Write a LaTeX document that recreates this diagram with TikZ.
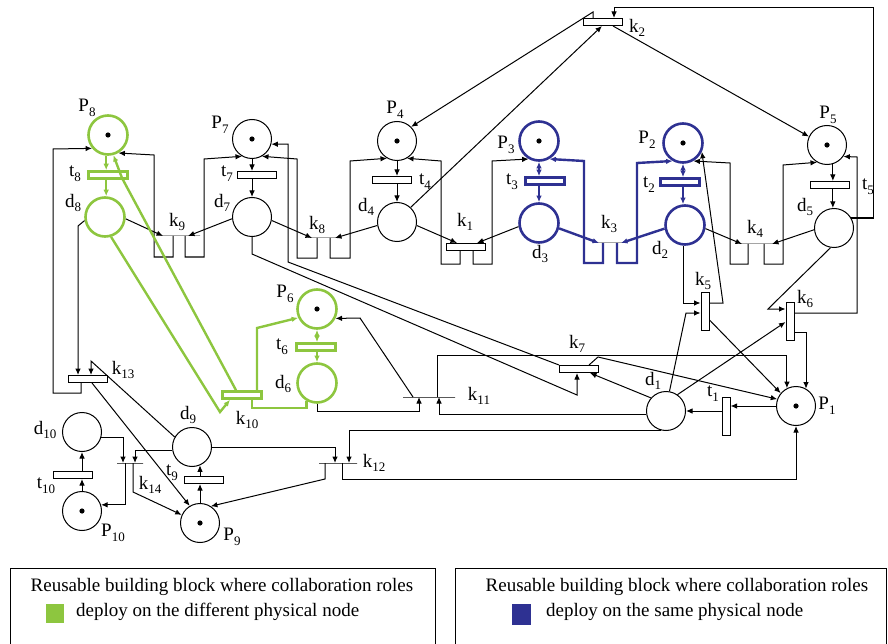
\documentclass[tikz,border=0pt]{standalone}
\usepackage{fontspec}
\setmainfont{Liberation Serif}
\usetikzlibrary{arrows.meta}

\definecolor{diffgreen}{RGB}{141,198,63}
\definecolor{sameblue}{RGB}{46,49,146}

% name with a lowered index (P_8, k_13 ...)
\newcommand{\lab}[2]{#1\raisebox{-0.55ex}{\fontsize{13}{13}\selectfont #2}}

\begin{document}
\begin{tikzpicture}[x=1pt, y=-1pt,
  place/.style={circle, draw, line width=1pt, minimum size=39pt, inner sep=0pt},
  marked/.style={path picture={\fill (path picture bounding box.center) circle (2.6pt);}},
  trans/.style={rectangle, draw, line width=1pt, minimum width=39pt, minimum height=7pt, inner sep=0pt},
  vtrans/.style={trans, minimum width=8pt, minimum height=38pt},
  bar/.style={rectangle, draw, line width=1pt, minimum height=0pt, inner sep=0pt},
  diff/.style={draw=diffgreen, line width=2.6pt},
  same/.style={draw=sameblue, line width=2.6pt},
  arc/.style={line width=1pt, -{Latex[length=6.5pt, width=5.5pt]}},
  both/.style={{Latex[length=6.5pt, width=5.5pt]}-{Latex[length=6.5pt, width=5.5pt]}},
  garc/.style={arc, draw=diffgreen, line width=2.4pt},
  barc/.style={arc, draw=sameblue, line width=2.4pt},
  lbl/.style={font=\fontsize{19}{19}\selectfont, inner sep=0pt},
  legend/.style={font=\fontsize{19}{19}\selectfont, inner sep=0pt}
]
\useasboundingbox (0,0) rectangle (888,644);

% ── PLACES ───────────────────────────────────────────────────────────────
\node[place, marked, diff] (P8) at (108,135) {};
\node[place, marked]       (P7) at (252,139) {};
\node[place, marked]       (P4) at (397,141) {};
\node[place, marked, same] (P3) at (539,141) {};
\node[place, marked, same] (P2) at (683,143) {};
\node[place, marked]       (P5) at (827,145) {};
\node[place, marked, diff] (P6) at (317,309) {};
\node[place, marked]       (P1) at (796,406) {};
\node[place, marked]       (P9) at (200,523) {};
\node[place, marked]      (P10) at (82,511) {};

\node[place, diff] (d8) at (105,217) {};
\node[place]       (d7) at (252,217) {};
\node[place]       (d4) at (397,222) {};
\node[place, same] (d3) at (539,223) {};
\node[place, same] (d2) at (685,225) {};
\node[place]       (d5) at (834,228) {};
\node[place, diff] (d6) at (317,383) {};
\node[place]       (d1) at (666,411) {};
\node[place]       (d9) at (192,447) {};
\node[place]      (d10) at (82,432) {};

% ── TRANSITIONS ──────────────────────────────────────────────────────────
\node[trans, diff] (t8) at (108,175) {};
\node[trans]       (t7) at (257,175) {};
\node[trans]       (t4) at (392,180) {};
\node[trans, same] (t3) at (545,181) {};
\node[trans, same] (t2) at (680,182) {};
\node[trans]       (t5) at (830,185) {};
\node[trans, diff] (t6) at (316,347) {};
\node[trans]      (t10) at (73,475) {};
\node[trans]       (t9) at (204,480) {};
\node[trans]       (k1) at (466,247) {};
\node[trans]       (k2) at (603,22) {};
\node[trans]       (k7) at (579,369) {};
\node[trans]      (k13) at (88,379) {};
\node[trans, diff] (k10) at (242,395) {};
\node[vtrans]      (k5) at (705,311) {};
\node[vtrans]      (k6) at (790,321) {};
\node[vtrans]      (t1) at (726,416) {};
\node[bar, minimum width=40pt]  (k9) at (180,236) {};
\node[bar, minimum width=32pt]  (k8) at (324,238) {};
\node[bar, minimum width=34pt]  (k3) at (610,243) {};
\node[bar, minimum width=38pt]  (k4) at (759,244) {};
\node[bar, minimum width=52pt] (k11) at (429,397) {};
\node[bar, minimum width=38pt] (k12) at (338,463) {};
\node[bar, minimum width=26pt] (k14) at (130,463) {};

% ── LABELS ───────────────────────────────────────────────────────────────
\node[lbl] (lP8) at (87,108) {\lab{P}{8}};
\node[lbl] (lt8) at (75,174) {\lab{t}{8}};
\node[lbl] (ld8) at (73,203) {\lab{d}{8}};
\node[lbl] (lP7) at (220,125) {\lab{P}{7}};
\node[lbl] (lt7) at (227,174) {\lab{t}{7}};
\node[lbl] (ld7) at (222,203) {\lab{d}{7}};
\node[lbl] (lk9) at (177,222) {\lab{k}{9}};
\node[lbl] (lP4) at (395,110) {\lab{P}{4}};
\node[lbl] (lt4) at (425,182) {\lab{t}{4}};
\node[lbl] (ld4) at (366,207) {\lab{d}{4}};
\node[lbl] (lk8) at (317,225) {\lab{k}{8}};
\node[lbl] (lk1) at (465,222) {\lab{k}{1}};
\node[lbl] (lP3) at (506,145) {\lab{P}{3}};
\node[lbl] (lt3) at (512,182) {\lab{t}{3}};
\node[lbl] (ld3) at (540,254) {\lab{d}{3}};
\node[lbl] (lk3) at (609,224) {\lab{k}{3}};
\node[lbl] (lP2) at (647,140) {\lab{P}{2}};
\node[lbl] (lt2) at (649,185) {\lab{t}{2}};
\node[lbl] (ld2) at (660,250) {\lab{d}{2}};
\node[lbl] (lk4) at (755,229) {\lab{k}{4}};
\node[lbl] (lP5) at (828,115) {\lab{P}{5}};
\node[lbl] (lt5) at (868,187) {\lab{t}{5}};
\node[lbl] (ld5) at (805,207) {\lab{d}{5}};
\node[lbl] (lk5) at (703,281) {\lab{k}{5}};
\node[lbl] (lk6) at (805,299) {\lab{k}{6}};
\node[lbl] (lk7) at (577,344) {\lab{k}{7}};
\node[lbl] (ld1) at (653,381) {\lab{d}{1}};
\node[lbl] (lt1) at (713,394) {\lab{t}{1}};
\node[lbl] (lP1) at (827,406) {\lab{P}{1}};
\node[lbl] (lk11) at (479,396) {\lab{k}{11}};
\node[lbl] (lk12) at (374,463) {\lab{k}{12}};
\node[lbl] (lP6) at (285,294) {\lab{P}{6}};
\node[lbl] (lt6) at (282,347) {\lab{t}{6}};
\node[lbl] (ld6) at (283,384) {\lab{d}{6}};
\node[lbl] (lk10) at (247,420) {\lab{k}{10}};
\node[lbl] (lk13) at (123,370) {\lab{k}{13}};
\node[lbl] (ld10) at (45,430) {\lab{d}{10}};
\node[lbl] (lt10) at (46,486) {\lab{t}{10}};
\node[lbl] (lP10) at (113,533) {\lab{P}{10}};
\node[lbl] (ld9) at (188,415) {\lab{d}{9}};
\node[lbl] (lt9) at (172,473) {\lab{t}{9}};
\node[lbl] (lk14) at (150,485) {\lab{k}{14}};
\node[lbl] (lP9) at (232,537) {\lab{P}{9}};
\node[lbl] (lk2) at (637,28) {\lab{k}{2}};

% ── PLACE -> t -> d ──────────────────────────────────────────────────────
\draw[garc] (P8.-95) -- (P8.-95 |- t8.north);
\draw[garc] (P8.-95 |- t8.south) -- (P8.-95 |- d8.north);
\draw[arc] (P7.south) -- (P7.south |- t7.north);
\draw[arc] (P7.south |- t7.south) -- (d7.north);
\draw[arc] (P4.south) -- (P4.south |- t4.north);
\draw[arc] (P4.south |- t4.south) -- (d4.north);
\draw[barc, both] (P3.south) -- (P3.south |- t3.north);
\draw[barc] (P3.south |- t3.south) -- (d3.north);
\draw[barc, both] (P2.south) -- (P2.south |- t2.north);
\draw[barc] (P2.south |- t2.south) -- (P2.south |- d2.north);
\draw[arc] (P5.-73) -- (P5.-73 |- t5.north);
\draw[arc] (P5.-73 |- t5.south) -- (P5.-73 |- d5.north);
\draw[garc, both] (P6.south) -- (P6.south |- t6.north);
\draw[garc] (P6.south |- t6.south) -- (d6.north);
\draw[arc] (P10.north) -- (P10.north |- t10.south);
\draw[arc] (P10.north |- t10.north) -- (d10.south);
\draw[arc] (P9.north) -- (P9.north |- t9.south);
\draw[arc] (P9.north |- t9.north) -- (P9.north |- d9.-66);
\draw[arc] (P1.west) -- (t1.east |- P1.west);
\draw[arc] (t1.west |- d1.east) -- (d1.east);

% ── k9, k8, k1, k3, k4 (back to the places above) ───────────────────────
\draw[arc] (d8.-5) -- ([xshift=-17pt]k9.center);
\draw[arc] (d7.185) -- ([xshift=8pt]k9.center);
\draw[arc] ([xshift=-7pt]k9.center) -- ++(0,21) -| (154,155) -- (P8.-60);
\draw[arc] ([xshift=5pt]k9.center) -- ++(0,21) -| (204,159) -- (P7.-120);

\draw[arc] (d7.-10) -- ([xshift=-12pt]k8.center);
\draw[arc] (d4.190) -- ([xshift=11pt]k8.center);
\draw[arc] ([xshift=-7pt]k8.center) -- ++(0,20) -| (297,159) -- (P7.-60);
\draw[arc] ([xshift=6pt]k8.center) -- ++(0,20) -| (350,161) -- (P4.-120);

\draw[arc] (d4.-10) -- ([xshift=-9pt]k1.north);
\draw[arc] (d3.190) -- ([xshift=11pt]k1.north);
\draw[arc] ([xshift=-6pt]k1.south) -- ++(0,13) -| (441,161) -- (P4.-60);
\draw[arc] ([xshift=7pt]k1.south) -- ++(0,13) -| (492,161) -- (P3.-120);

\draw[barc] (d3.-15) -- ([xshift=-11pt]k3.center);
\draw[barc] (d2.190) -- ([xshift=11pt]k3.center);
\draw[barc] ([xshift=-7pt]k3.center) -- ++(0,20) -| (584,161) -- (P3.-60);
\draw[barc] ([xshift=7pt]k3.center) -- ++(0,20) -| (637,163) -- (P2.-120);

\draw[arc] (d2.-10) -- ([xshift=-17pt]k4.center);
\draw[arc] (d5.185) -- ([xshift=13pt]k4.center);
\draw[arc] ([xshift=-11pt]k4.center) -- ++(0,20) -| (730,163) -- (P2.-60);
\draw[arc] ([xshift=5pt]k4.center) -- ++(0,20) -| (783,165) -- (P5.-120);

% ── k2 ───────────────────────────────────────────────────────────────────
\draw[arc] (d4.47) -- ([xshift=-1pt]k2.south);
\draw[arc] (d5.30) -| (873,8) -| ([xshift=11pt]k2.north);
\draw[arc] ([xshift=-10pt]k2.north) -- ++(0,-6) -- (P4.45);
\draw[arc] ([xshift=10pt]k2.south) -- (P5.155);

% ── k5, k6 ───────────────────────────────────────────────────────────────
\draw[arc] (d2.-95) |- ([yshift=8pt]k5.west);
\draw[arc] (d1.80) -- (686,313) -- ([yshift=-2pt]k5.west);
\draw[arc] ([yshift=8pt]k5.east) -- (723,303) -- (P2.-25);
\draw[arc] ([yshift=-9pt]k5.east) -- (P1.140);

\draw[arc] (d5.-100) -- (768,309) -- ([yshift=12pt]k6.west);
\draw[arc] (d1.55) -- ([yshift=-1pt]k6.west);
\draw[arc] ([yshift=8pt]k6.east) -| (857,157) -- (P5.-35);
\draw[arc] ([yshift=-11pt]k6.east) -| (P1.60);

% ── k7 ───────────────────────────────────────────────────────────────────
\draw[arc] (d1.139) -- ([xshift=11pt]k7.south);
\draw[arc] (d7.south) -- ++(0,17) -- (577,395) -- ([xshift=-2pt]k7.south);
\draw[arc] (k7.north west) -- (288,262) |- (P7.-15);
\draw[arc] ([xshift=10pt]k7.north) -- (598,357) -- (P1.160);

% ── k11, k12 ─────────────────────────────────────────────────────────────
\draw[arc] (d6.south) -- ++(0,8) -| ([xshift=-10pt]k11.center);
\draw[arc] (d1.-171) -| ([xshift=10pt]k11.center);
\draw[arc] ([xshift=-16pt]k11.center) -- (360,318) -- (P6.-27);
\draw[arc] ([xshift=8pt]k11.center) -- ++(0,-42) -| (P1.117);

\draw[arc] (d9.east) -| ([xshift=-3pt]k12.center);
\draw[arc] (d1.-105) -| ([xshift=11pt]k12.center);
\draw[arc] ([xshift=-13pt]k12.center) -- ++(0,16) -- (P9.57);
\draw[arc] ([xshift=4pt]k12.center) -- ++(0,16) -| (P1.south);

% ── k13, k14 ─────────────────────────────────────────────────────────────
\draw[arc] (d8.190) -- (78,226) -- ([xshift=-10pt]k13.north);
\draw[arc] (d9.150) -- (91,361) -- ([xshift=3pt]k13.north);
\draw[arc] ([xshift=-7pt]k13.south) -- ++(0,10) -| (53,149) -- (P8.-140);
\draw[arc] ([xshift=4pt]k13.south) -- (P9.121);

\draw[arc] (d10.-15) -| ([xshift=-7pt]k14.center);
\draw[arc] (d9.-171) -| ([xshift=5pt]k14.center);
\draw[arc] ([xshift=-5pt]k14.center) |- (P10.18);
\draw[arc] ([xshift=3pt]k14.center) -- ++(0,29) -- (P9.156);

% ── k10 (green, different physical node) ────────────────────────────────
\draw[garc] (d8.-73) -- (220,412) -- ([xshift=-12pt]k10.south);
\draw[garc, -] (d6.-120) |- (252,408) -- ([xshift=10pt]k10.south);
\draw[garc] ([xshift=15pt]k10.north) -- (257,328) -- (P6.205);
\draw[garc] ([xshift=-6pt]k10.north) -- (122,178) -- (P8.-75);

% ── LEGEND ───────────────────────────────────────────────────────────────
\draw[line width=0.9pt] (10,650) |- (435,568) -- (435,650);
\draw[line width=0.9pt] (455,650) |- (886,568) -- (886,650);
\node[legend] (lgA1) at (222,587) {Reusable building block where collaboration roles};
\node[fill=diffgreen, minimum width=18pt, minimum height=19pt, inner sep=0pt] (lgAsq) at (55,613) {};
\node[legend, anchor=west] (lgA2) at (76,612) {deploy on the different physical node};
\node[legend] (lgB1) at (677,587) {Reusable building block where collaboration roles};
\node[fill=sameblue, minimum width=19pt, minimum height=21pt, inner sep=0pt] (lgBsq) at (521,614) {};
\node[legend, anchor=west] (lgB2) at (546,612) {deploy on the same physical node};

\end{tikzpicture}
\end{document}
